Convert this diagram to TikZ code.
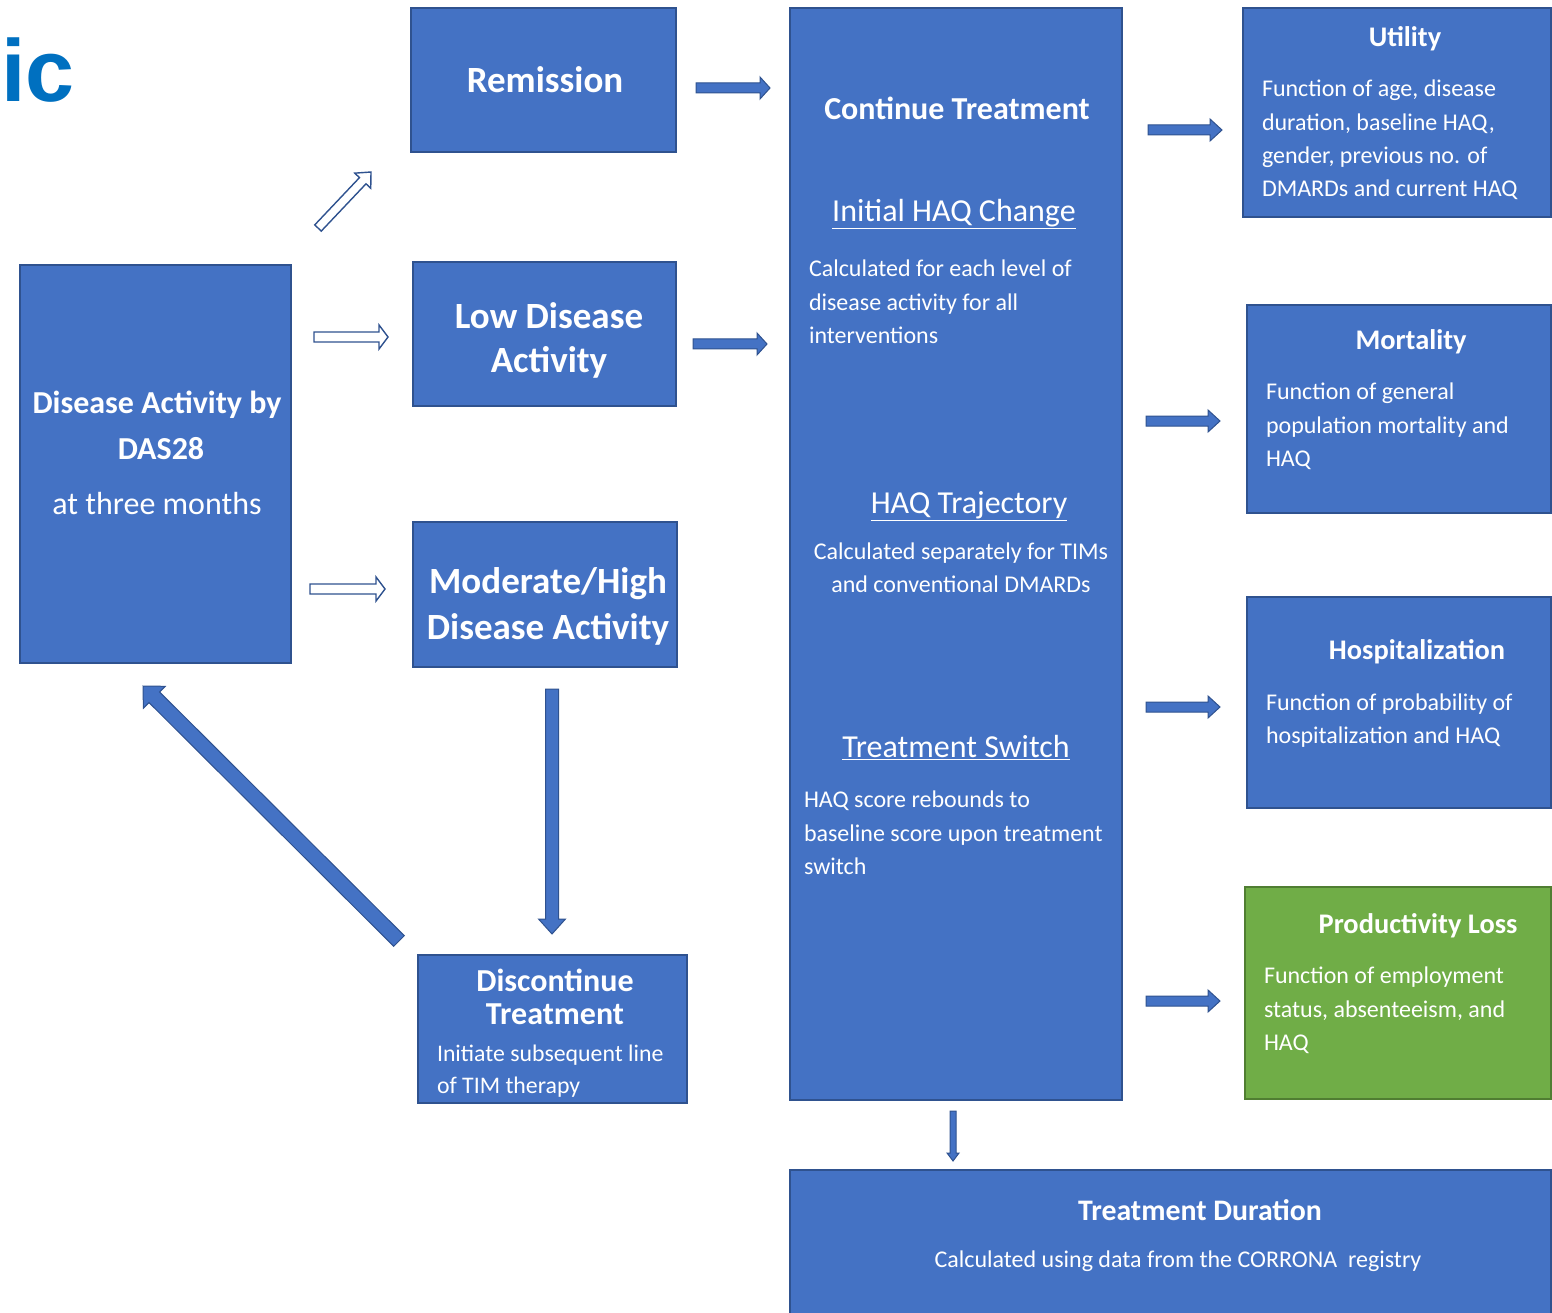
\documentclass[tikz,border=0pt]{standalone}
\usepackage{fontspec}
\setmainfont{Carlito}
\newfontfamily\arialfont{Liberation Sans}
\usetikzlibrary{calc}
\definecolor{boxblue}{HTML}{4472C4}
\definecolor{edgeblue}{HTML}{2F528F}
\definecolor{boxgreen}{HTML}{70AD47}
\definecolor{edgegreen}{HTML}{507E32}
\definecolor{titleblue}{HTML}{0070C0}
\newcommand{\blockarrow}[6]{%
  \coordinate (ba-base) at ($(#3)!#6!(#2)$);
  \draw[#1] ($(#2)!#4!90:(#3)$) -- ($(ba-base)!#4!-90:(#2)$) -- ($(ba-base)!#5!-90:(#2)$) -- (#3) -- ($(ba-base)!#5!90:(#2)$) -- ($(ba-base)!#4!90:(#2)$) -- ($(#2)!#4!-90:(#3)$) -- cycle;}
\begin{document}
\begin{tikzpicture}[x=1pt,y=-1pt,
  box/.style={draw=edgeblue, fill=boxblue, line width=1.6pt, inner sep=0pt, outer sep=0pt, anchor=north west},
  gbox/.style={box, draw=edgegreen, fill=boxgreen},
  txt/.style={text=white, inner sep=0pt, outer sep=0pt},
  solidarrow/.style={fill=boxblue, draw=edgeblue, line width=1pt, line join=miter},
  hollowarrow/.style={fill=white, draw=edgeblue, line width=1.4pt, line join=miter},
  bigb/.style={font=\fontsize{37}{44}\selectfont\bfseries},
  midb/.style={font=\fontsize{32}{46}\selectfont\bfseries},
  headb/.style={font=\fontsize{28.4}{33}\selectfont\bfseries},
  body/.style={font=\fontsize{24}{33.3}\selectfont},
  undl/.style={font=\fontsize{32}{36}\selectfont},
]
\useasboundingbox (0,0) rectangle (1552,1313);
\clip (0,0) rectangle (1552,1313);

% title fragment
\node[anchor=base east, inner sep=0pt, text=titleblue, font=\arialfont\fontsize{88}{96}\selectfont\bfseries] (title) at (75,102) {ic};

% boxes
\node[box, minimum width=271pt, minimum height=398pt] (das) at (20,265) {};
\node[box, minimum width=265pt, minimum height=144pt] (rem) at (411,8) {};
\node[box, minimum width=263pt, minimum height=144pt] (lda) at (413,262) {};
\node[box, minimum width=264pt, minimum height=145pt] (mod) at (413,522) {};
\node[box, minimum width=269pt, minimum height=148pt] (disc) at (418,955) {};
\node[box, minimum width=332pt, minimum height=1092pt] (cont) at (790,8) {};
\node[box, minimum width=308pt, minimum height=209pt] (util) at (1243,8) {};
\node[box, minimum width=304pt, minimum height=208pt] (mort) at (1247,305) {};
\node[box, minimum width=304pt, minimum height=211pt] (hosp) at (1247,597) {};
\node[gbox, minimum width=306pt, minimum height=212pt] (prod) at (1245,887) {};
\node[box, minimum width=761pt, minimum height=160pt] (dur) at (790,1170) {};

% texts
\node[txt, bigb] (remT) at (545,80) {Remission};
\node[txt, bigb, align=center] (ldaT) at (549,340) {Low Disease\\Activity};
\node[txt, font=\fontsize{37}{46}\selectfont\bfseries, align=center] (modT) at (548,606) {Moderate/High\\Disease Activity};
\node[txt, midb, align=center] (dasT) at (157,425) {Disease Activity by\\\hspace*{8pt}DAS28};
\node[txt, font=\fontsize{32}{36}\selectfont] (dasS) at (157,504) {at three months};
\node[txt, font=\fontsize{32}{33}\selectfont\bfseries, align=center] (discT) at (555,997) {Discontinue\\Treatment};
\node[txt, font=\fontsize{23.8}{32}\selectfont, align=left, anchor=west] (discS) at (437,1071) {Initiate subsequent line\\of TIM therapy};

\node[txt, midb] (contT) at (957,108) {Continue Treatment};
\node[txt, undl] (haqA) at (954,214) {\underline{Initial HAQ Change}};
\node[txt, body, align=left, anchor=west] (haqAs) at (809,302) {Calculated for each level of\\disease activity for all\\interventions};
\node[txt, undl] (haqB) at (969,506) {\underline{HAQ Trajectory}};
\node[txt, body, align=center] (haqBs) at (961,568) {Calculated separately for TIMs\\and conventional DMARDs};
\node[txt, undl] (haqC) at (956,748) {\underline{Treatment Switch}};
\node[txt, body, align=left, anchor=west] (haqCs) at (804,833) {HAQ score rebounds to\\baseline score upon treatment\\switch};

\node[txt, headb] (utilT) at (1405,39) {Utility};
\node[txt, body, align=left, anchor=west] (utilS) at (1262,140) {Function of age, disease\\duration, baseline HAQ,\\gender, previous no. of\\DMARDs and current HAQ};
\node[txt, headb] (mortT) at (1411,342) {Mortality};
\node[txt, body, align=left, anchor=west] (mortS) at (1266,426.5) {Function of general\\population mortality and\\HAQ};
\node[txt, headb] (hospT) at (1417,652) {Hospitalization};
\node[txt, body, align=left, anchor=west] (hospS) at (1266,720.5) {Function of probability of\\hospitalization and HAQ};
\node[txt, headb] (prodT) at (1418,926) {Productivity Loss};
\node[txt, body, align=left, anchor=west] (prodS) at (1264,1010.5) {Function of employment\\status, absenteeism, and\\HAQ};
\node[txt, font=\fontsize{29.8}{33}\selectfont\bfseries] (durT) at (1200,1210) {Treatment Duration};
\node[txt, body] (durS) at (1178,1261) {Calculated using data from the CORRONA\ \ registry};

% arrow end points
\coordinate (hd1a) at (318,228); \coordinate (hd1b) at (371,172);
\coordinate (hh1a) at (314,337); \coordinate (hh1b) at (388,337);
\coordinate (hh2a) at (310,589); \coordinate (hh2b) at (385,589);
\coordinate (r1a) at (696,88); \coordinate (r1b) at (770,88);
\coordinate (r2a) at (693,344); \coordinate (r2b) at (767,344);
\coordinate (u1a) at (1148,130); \coordinate (u1b) at (1222,130);
\coordinate (u2a) at (1146,421); \coordinate (u2b) at (1220,421);
\coordinate (u3a) at (1146,707); \coordinate (u3b) at (1220,707);
\coordinate (u4a) at (1146,1001); \coordinate (u4b) at (1220,1001);
\coordinate (dmA) at (552,689); \coordinate (dmB) at (552,934);
\coordinate (bdA) at (399,941); \coordinate (bdB) at (143,686);
\coordinate (dcA) at (953,1111); \coordinate (dcB) at (953,1161);

% hollow arrows
\blockarrow{hollowarrow}{hd1a}{hd1b}{4.5pt}{11pt}{12pt}
\blockarrow{hollowarrow}{hh1a}{hh1b}{5pt}{12pt}{9pt}
\blockarrow{hollowarrow}{hh2a}{hh2b}{5pt}{12pt}{9pt}
% solid arrows
\blockarrow{solidarrow}{r1a}{r1b}{5pt}{11pt}{10pt}
\blockarrow{solidarrow}{r2a}{r2b}{5pt}{11pt}{10pt}
\blockarrow{solidarrow}{u1a}{u1b}{5pt}{11pt}{12pt}
\blockarrow{solidarrow}{u2a}{u2b}{5pt}{11pt}{12pt}
\blockarrow{solidarrow}{u3a}{u3b}{5pt}{11pt}{12pt}
\blockarrow{solidarrow}{u4a}{u4b}{5pt}{11pt}{12pt}
\blockarrow{solidarrow}{dmA}{dmB}{6.5pt}{13.5pt}{15pt}
\blockarrow{solidarrow}{bdA}{bdB}{7.5pt}{15.5pt}{16pt}
\blockarrow{solidarrow}{dcA}{dcB}{3pt}{6pt}{8pt}
\end{tikzpicture}
\end{document}
